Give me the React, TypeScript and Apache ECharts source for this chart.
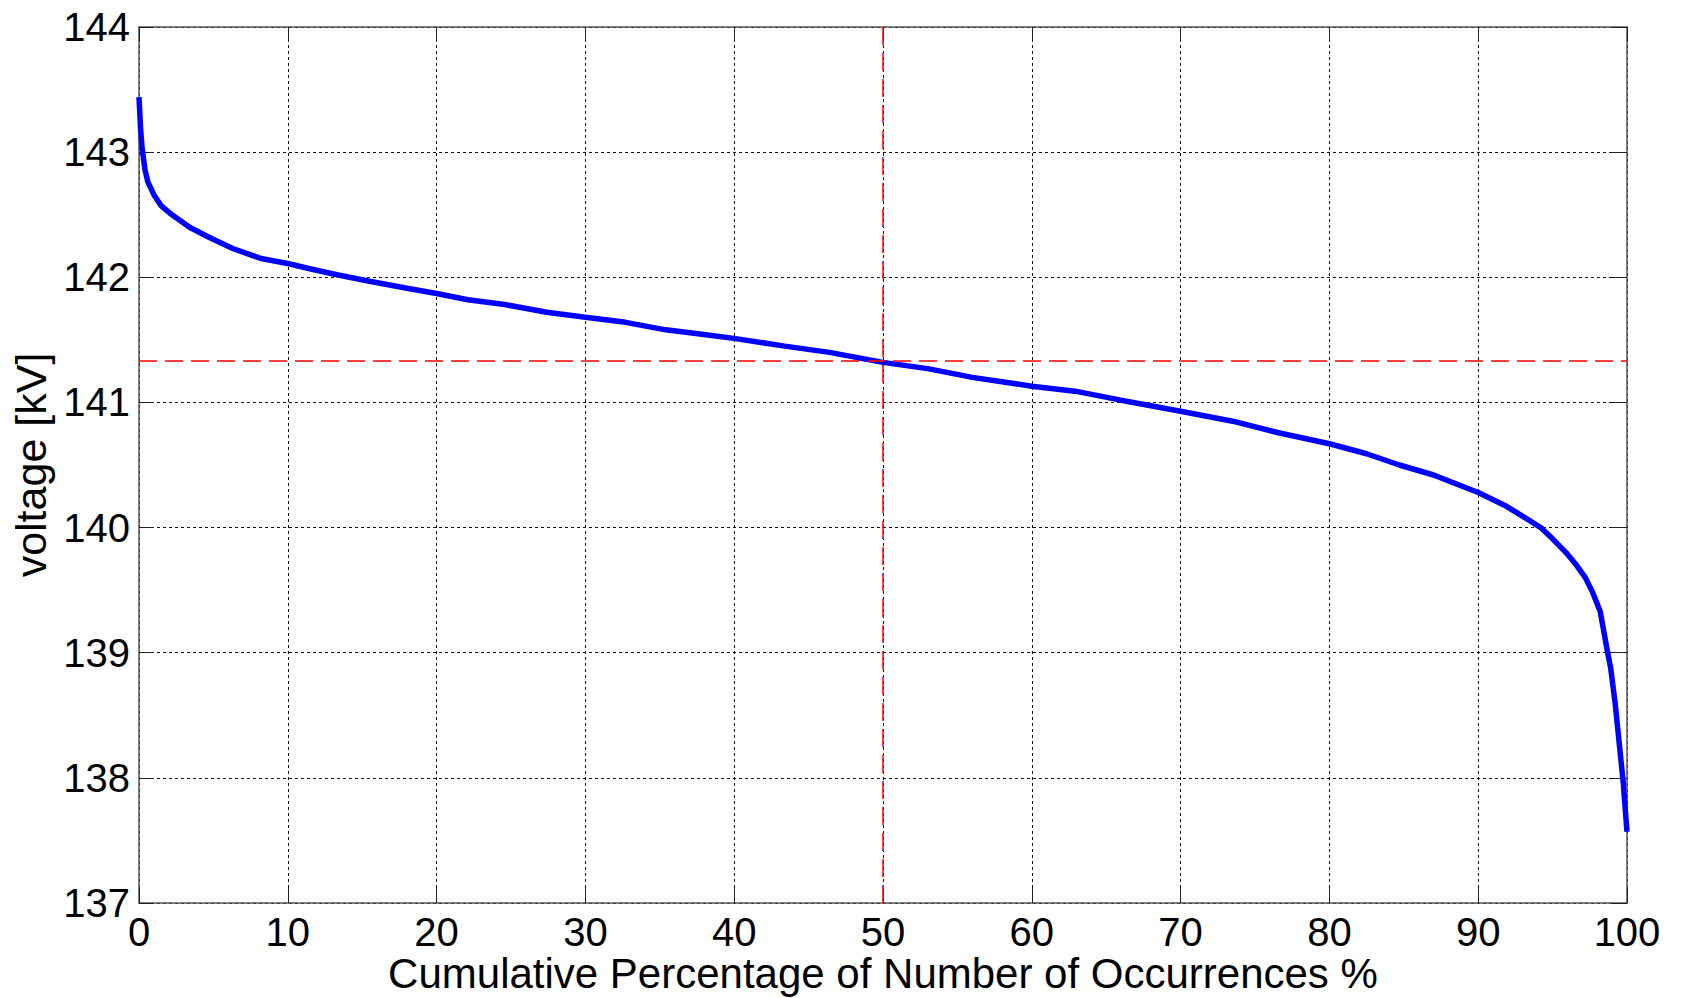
import React, { useEffect, useRef } from "react";
import * as echarts from "echarts";

// Cumulative percentage of number of occurrences (%)
const percent: number[] = [
  0, 0.1, 0.2, 0.4, 0.6, 1.0, 1.5, 2.1, 3.4, 4.7, 6.3, 8.2, 10, 11.4, 13.3, 15.4,
  18.1, 20, 22.1, 24.7, 27.4, 30, 32.7, 35.4, 38.1, 40.1, 43.4, 46.4, 50, 53, 56,
  60, 62.9, 65.9, 70, 73.5, 76.5, 80, 82.5, 84.7, 87, 90, 91.9, 93, 94.2, 95.0,
  95.9, 96.6, 97.2, 97.7, 98.2, 98.7, 98.9, 99.2, 99.5, 99.75, 99.9, 100,
];
// Voltage (kV)
const voltage: number[] = [
  143.44, 143.2, 143.04, 142.86, 142.76, 142.66, 142.57, 142.51, 142.4, 142.32,
  142.23, 142.15, 142.11, 142.07, 142.02, 141.97, 141.91, 141.87, 141.82, 141.78,
  141.72, 141.68, 141.64, 141.58, 141.54, 141.51, 141.45, 141.4, 141.32, 141.27,
  141.2, 141.13, 141.09, 141.02, 140.93, 140.85, 140.76, 140.67, 140.59, 140.5,
  140.42, 140.28, 140.17, 140.09, 140.0, 139.91, 139.8, 139.7, 139.6, 139.48,
  139.33, 139.0, 138.88, 138.6, 138.25, 137.96, 137.72, 137.57,
];
const medianPercent = 50;
const medianVoltage = 141.33;

const xMin = 0;
const xMax = 100;
const xStep = 10;
const yMin = 137;
const yMax = 144;
const yStep = 1;

const xTitle = "Cumulative Percentage of Number of Occurrences %";
const yTitle = "voltage [kV]";

const FONT = "'Liberation Sans', Arial, sans-serif";

export default function App() {
  const ref = useRef<HTMLDivElement>(null);
  useEffect(() => {
    document.body.style.margin = "0";
    if (!ref.current) return;
    const chart = echarts.init(ref.current, undefined, { renderer: "svg" });
    const axisLine = { show: true, onZero: false, lineStyle: { color: "#555", width: 1.5 } };
    const tick = { show: true, inside: true, length: 15, lineStyle: { color: "#222", width: 1 } };
    const split = { show: true, lineStyle: { color: "#111", width: 1, type: [3, 3] as any } };
    const data = percent.map((p, i) => [p, voltage[i]]);
    chart.setOption({
      animation: false,
      backgroundColor: "#fff",
      textStyle: { fontFamily: FONT },
      grid: { left: 139, right: 55, top: 27, bottom: 95, containLabel: false, outerBoundsMode: "none" } as any,
      graphic: [
        {
          type: "text",
          x: 883,
          y: 973,
          style: {
            text: xTitle,
            fontSize: 42,
            lineHeight: 42,
            fontFamily: FONT,
            fill: "#000",
            align: "center",
            verticalAlign: "middle",
          },
        },
      ],
      xAxis: [
        {
          type: "value", position: "bottom", min: xMin, max: xMax, interval: xStep,
          axisLine, axisTick: tick, splitLine: split,
          axisLabel: { fontSize: 40, lineHeight: 32, color: "#000", margin: 13, fontFamily: FONT },
        },
        {
          type: "value", position: "top", min: xMin, max: xMax, interval: xStep,
          axisLine, axisTick: tick, splitLine: { show: false }, axisLabel: { show: false },
        },
      ],
      yAxis: [
        {
          type: "value", position: "left", min: yMin, max: yMax, interval: yStep,
          axisLine, axisTick: tick, splitLine: split,
          axisLabel: { fontSize: 40, color: "#000", margin: 9, fontFamily: FONT },
          name: yTitle, nameLocation: "middle", nameGap: 84,
          nameTextStyle: { fontSize: 43, color: "#000", fontFamily: FONT },
        },
        {
          type: "value", position: "right", min: yMin, max: yMax, interval: yStep,
          axisLine, axisTick: tick, splitLine: { show: false }, axisLabel: { show: false },
        },
      ],
      series: [
        {
          type: "line",
          xAxisIndex: 0,
          yAxisIndex: 0,
          data,
          showSymbol: false,
          symbol: "none",
          lineStyle: { color: "#0000ff", width: 5.5 },
          z: 3,
          markLine: {
            silent: true,
            symbol: ["none", "none"],
            label: { show: false },
            lineStyle: { color: "#ff0000", width: 1.5, type: [18, 8] as any },
            data: [{ yAxis: medianVoltage }, { xAxis: medianPercent }],
          },
        },
      ],
    });
    return () => chart.dispose();
  }, []);
  return <div ref={ref} style={{ width: 1682, height: 998 }} />;
}
